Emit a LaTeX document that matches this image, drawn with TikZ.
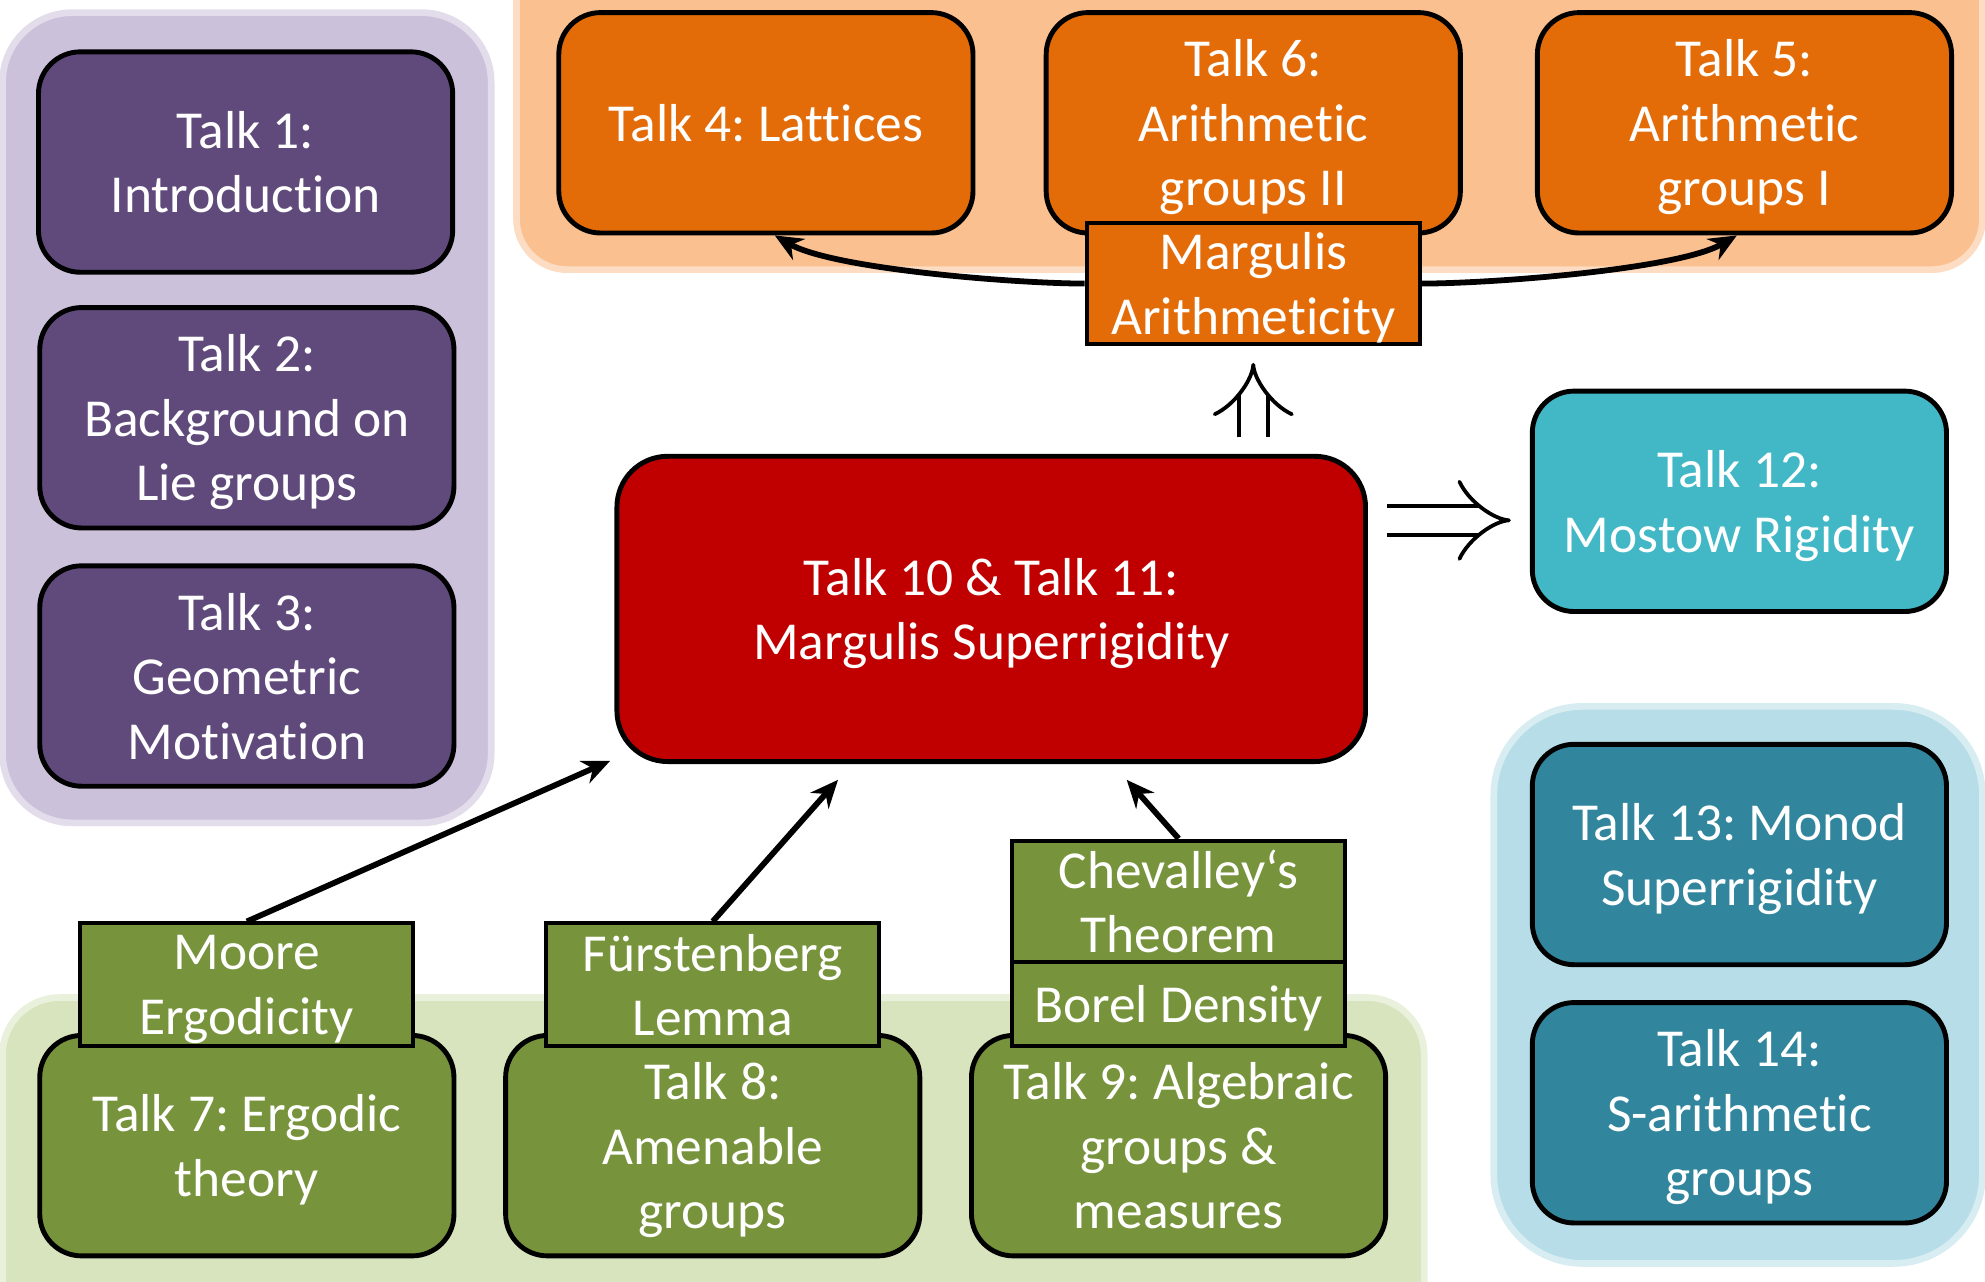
\documentclass[tikz,border=0pt]{standalone}
\usepackage{fontspec}
\setmainfont{Carlito}[Ligatures={TeX,NoCommon}]
\usetikzlibrary{arrows.meta}
\definecolor{purpledark}{HTML}{604A7B}
\definecolor{purplelight}{HTML}{CCC1DA}
\definecolor{orangedark}{HTML}{E36C09}
\definecolor{orangelight}{HTML}{FAC090}
\definecolor{reddark}{HTML}{C00000}
\definecolor{aqua}{HTML}{42B8C6}
\definecolor{tealdark}{HTML}{31859C}
\definecolor{bluelight}{HTML}{B7DEE8}
\definecolor{greendark}{HTML}{77933C}
\definecolor{greenlight}{HTML}{D7E4BD}
\begin{document}
\begin{tikzpicture}[x=0.01cm,y=-0.01cm,
		talk/.style={draw=black,line width=1.1pt,rounded corners=0.33cm,text=white,align=center,inner sep=0pt,text depth=0pt,minimum width=3.27cm,minimum height=1.74cm,font=\fontsize{12}{14.5}\selectfont\frenchspacing},
		res/.style={draw=black,line width=0.9pt,text=white,align=center,inner sep=0pt,text depth=0pt,minimum width=2.63cm,font=\fontsize{12}{14.5}\selectfont\frenchspacing},
		group/.style={line width=1.5pt},
		arr/.style={line width=1.3pt,-{Stealth[length=0.22cm,width=0.19cm]}},
		imp/.style={double,double distance=0.2cm,line width=0.85pt,-{Implies}}]
		\useasboundingbox (0,0) rectangle (1568,1012);
		\filldraw [group,fill=purplelight,draw=purplelight!55,rounded corners=0.55cm] (2,10) rectangle (388,650);
		\filldraw [group,fill=orangelight,draw=orangelight!55,rounded corners=0.4cm] (408,-50) rectangle (1566,213);
		\filldraw [group,fill=bluelight,draw=bluelight!55,rounded corners=0.7cm] (1180,558) rectangle (1566,998);
		\filldraw [group,fill=greenlight,draw=greenlight!55,rounded corners=0.45cm] (2,788) rectangle (1125,1060);
		\node [talk,fill=purpledark] (t1) at (194,128) {Talk 1:\\Introduction};
		\node [talk,fill=purpledark] (t2) at (195,330) {Talk 2:\\Background on\\Lie groups};
		\node [talk,fill=purpledark] (t3) at (195,534) {Talk 3:\\Geometric\\Motivation};
		\node [talk,fill=orangedark] (t4) at (605,97) {Talk 4: Lattices};
		\node [talk,fill=orangedark] (t6) at (990,97) {Talk 6:\\Arithmetic\\groups II};
		\node [talk,fill=orangedark] (t5) at (1378,97) {Talk 5:\\Arithmetic\\groups I};
		\node [res,fill=orangedark,minimum height=0.96cm] (arith) at (990,224) {Margulis\\Arithmeticity};
		\node [talk,fill=reddark,minimum width=5.91cm,minimum height=2.41cm,rounded corners=0.4cm] (sup) at (783,481) {Talk 10 \& Talk 11:\\Margulis Superrigidity};
		\node [talk,fill=aqua] (t12) at (1374,396) {Talk 12:\\Mostow Rigidity};
		\node [talk,fill=tealdark] (t13) at (1374,675) {Talk 13: Monod\\Superrigidity};
		\node [talk,fill=tealdark] (t14) at (1374,879) {Talk 14:\\S-arithmetic\\groups};
		\node [talk,fill=greendark] (t7) at (195,905) {Talk 7: Ergodic\\theory};
		\node [talk,fill=greendark] (t8) at (563,905) {Talk 8:\\Amenable\\groups};
		\node [talk,fill=greendark] (t9) at (931,905) {Talk 9: Algebraic\\groups \&\\measures};
		\node [res,fill=greendark,minimum height=0.97cm] (moore) at (195,778) {Moore\\Ergodicity};
		\node [res,fill=greendark,minimum height=0.97cm] (furst) at (563,778) {Fürstenberg\\Lemma};
		\node [res,fill=greendark,minimum height=0.96cm] (chev) at (931,712) {Chevalley‘s\\Theorem};
		\node [res,fill=greendark,minimum height=0.66cm] (borel) at (931,793) {Borel Density};
		\coordinate (in1) at (482,601);
		\coordinate (in2) at (662,616);
		\coordinate (in3) at (890,616);
		\coordinate (lvl) at (0,411);
		\draw [arr] (moore.north) -- (in1);
		\draw [arr] (furst.north) -- (in2);
		\draw [arr] (chev.north) -- (in3);
		\draw [arr] (arith.west) to[out=180,in=-30,looseness=0.55] ([xshift=0.07cm]t4.south);
		\draw [arr] (arith.east) to[out=0,in=-150,looseness=0.55] ([xshift=-0.06cm]t5.south);
		\draw [imp,shorten <=0.13cm,shorten >=0.13cm] (arith.south |- sup.north) -- (arith.south);
		\draw [imp,shorten <=0.15cm,shorten >=0.15cm] (sup.east |- lvl) -- (t12.west |- lvl);
\end{tikzpicture}
\end{document}
